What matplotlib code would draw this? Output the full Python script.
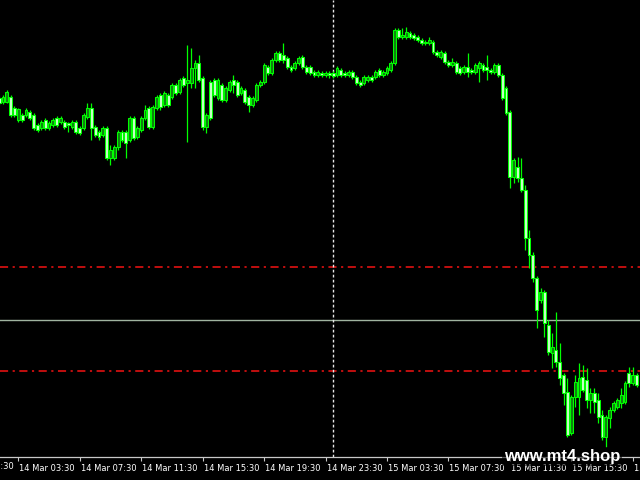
"""
      M15 candle chart, 14-15 Mar, green on black like the terminal.
"""
import numpy as np
import pandas as pd
import matplotlib
matplotlib.use("Agg")
import matplotlib.pyplot as plt
import matplotlib.transforms as mtrans

start = "2024-03-14 02:15"      # time of first bar

opens = [109.02,108.98,108.98,109.03,108.92,108.80,108.85,108.85,108.88,108.85,
         108.75,108.72,108.80,108.72,108.75,108.82,108.78,108.78,108.77,108.73,
         108.78,108.72,108.72,108.83,108.92,108.73,108.68,108.65,108.72,108.42,
         108.42,108.53,108.68,108.68,108.60,108.82,108.63,108.70,108.82,108.92,
         108.73,108.92,109.05,108.95,109.05,109.03,109.15,109.08,109.22,109.17,
         109.17,109.32,109.37,109.22,108.73,109.18,109.20,109.02,109.15,109.00,
         109.10,109.20,109.18,109.07,109.10,109.03,108.95,109.00,109.15,109.18,
         109.33,109.27,109.40,109.47,109.45,109.42,109.33,109.32,109.37,109.43,
         109.33,109.33,109.28,109.25,109.27,109.25,109.27,109.27,109.25,109.30,
         109.27,109.25,109.28,109.23,109.18,109.17,109.20,109.23,109.23,109.30,
         109.25,109.27,109.30,109.37,109.70,109.63,109.63,109.67,109.65,109.63,
         109.60,109.58,109.57,109.58,109.48,109.43,109.47,109.38,109.35,109.37,
         109.32,109.28,109.33,109.30,109.28,109.32,109.35,109.33,109.30,109.28,
         109.35,109.25,109.12,108.88,108.23,108.33,108.22,108.10,107.62,107.45,
         107.22,107.00,107.08,106.75,106.47,106.50,106.38,106.25,106.08,105.67,
         106.03,106.03,106.23,106.20,106.00,106.07,106.00,105.85,105.63,105.82,
         105.90,105.93,105.97,105.98,106.27,106.17,106.25]
highs = [109.04,109.05,109.10,109.05,108.94,108.92,108.87,108.92,108.90,108.87,
         108.77,108.80,108.82,108.79,108.82,108.84,108.84,108.80,108.78,108.80,
         108.80,108.74,108.87,108.97,108.97,108.75,108.70,108.74,108.74,108.55,
         108.55,108.70,108.70,108.70,108.84,108.84,108.74,108.84,108.95,108.94,
         108.95,109.05,109.07,109.09,109.07,109.17,109.17,109.22,109.24,109.55,
         109.52,109.40,109.45,109.24,108.87,109.20,109.22,109.22,109.17,109.14,
         109.20,109.25,109.20,109.14,109.12,109.05,109.04,109.17,109.20,109.37,
         109.35,109.42,109.49,109.49,109.57,109.44,109.35,109.39,109.44,109.45,
         109.35,109.35,109.30,109.30,109.29,109.29,109.29,109.29,109.34,109.32,
         109.29,109.30,109.30,109.25,109.20,109.25,109.25,109.25,109.30,109.32,
         109.30,109.34,109.39,109.72,109.72,109.72,109.73,109.69,109.67,109.65,
         109.62,109.60,109.63,109.60,109.50,109.50,109.49,109.40,109.42,109.39,
         109.34,109.35,109.47,109.32,109.37,109.39,109.37,109.45,109.32,109.37,
         109.37,109.27,109.14,108.90,108.42,108.43,108.42,108.15,107.70,107.48,
         107.24,107.12,107.10,106.80,106.67,106.88,106.57,106.27,106.22,106.05,
         106.25,106.37,106.35,106.32,106.12,106.12,106.07,105.90,105.85,105.93,
         105.99,106.02,106.12,106.19,106.33,106.33,106.27]
lows = [108.95,108.96,108.97,108.83,108.83,108.78,108.78,108.83,108.80,108.70,
        108.68,108.70,108.70,108.70,108.73,108.73,108.76,108.71,108.68,108.71,
        108.66,108.65,108.70,108.81,108.60,108.63,108.60,108.63,108.40,108.35,
        108.40,108.50,108.58,108.42,108.58,108.60,108.61,108.68,108.80,108.71,
        108.71,108.90,108.90,108.93,108.93,109.01,109.05,109.06,109.13,108.58,
        109.12,109.12,109.18,108.70,108.67,108.80,109.03,109.00,108.98,108.98,
        109.08,109.07,109.03,109.05,108.96,108.88,108.93,108.98,109.13,109.16,
        109.25,109.25,109.38,109.38,109.37,109.31,109.28,109.30,109.35,109.31,
        109.26,109.25,109.23,109.23,109.23,109.23,109.22,109.22,109.23,109.23,
        109.23,109.23,109.21,109.15,109.13,109.15,109.18,109.18,109.21,109.23,
        109.23,109.25,109.28,109.35,109.61,109.61,109.61,109.61,109.60,109.58,
        109.55,109.55,109.55,109.46,109.43,109.41,109.36,109.33,109.33,109.26,
        109.25,109.26,109.23,109.26,109.26,109.18,109.28,109.20,109.26,109.26,
        109.23,109.00,108.85,108.12,108.17,108.18,108.08,107.50,107.32,107.18,
        106.72,106.97,106.63,106.45,106.32,106.33,106.15,105.95,105.63,105.65,
        105.93,105.85,106.08,105.92,105.87,105.87,105.77,105.60,105.53,105.72,
        105.88,105.91,105.92,105.96,106.13,106.15,106.13]
closes = [108.97,109.03,109.08,108.85,108.85,108.91,108.80,108.90,108.82,108.72,
          108.70,108.78,108.72,108.77,108.80,108.75,108.82,108.73,108.75,108.78,
          108.68,108.67,108.85,108.92,108.72,108.65,108.63,108.72,108.42,108.50,
          108.53,108.68,108.60,108.57,108.82,108.62,108.72,108.82,108.90,108.73,
          108.93,109.03,108.93,109.07,108.95,109.15,109.07,109.20,109.15,109.20,
          109.32,109.37,109.20,108.73,108.85,108.82,109.05,109.20,109.00,109.12,
          109.18,109.15,109.05,109.12,108.98,108.95,109.02,109.15,109.18,109.35,
          109.27,109.40,109.47,109.40,109.40,109.33,109.30,109.37,109.42,109.33,
          109.28,109.27,109.25,109.28,109.25,109.27,109.25,109.24,109.32,109.25,
          109.25,109.28,109.23,109.17,109.15,109.23,109.23,109.20,109.28,109.25,
          109.28,109.32,109.37,109.70,109.63,109.65,109.68,109.63,109.62,109.60,
          109.57,109.57,109.60,109.48,109.45,109.48,109.38,109.35,109.38,109.28,
          109.27,109.33,109.28,109.28,109.35,109.37,109.30,109.30,109.28,109.35,
          109.25,109.02,108.87,108.23,108.40,108.22,108.10,107.62,107.45,107.22,
          106.90,107.08,106.77,106.48,106.53,106.38,106.22,106.07,105.65,106.03,
          106.18,106.22,106.10,106.00,106.07,105.98,105.83,105.63,105.83,105.90,
          105.97,106.00,106.05,106.17,106.17,106.25,106.15]

# horizontal levels and the day separator
red_levels = [107.33, 106.29]
grey_level = 106.80
separator = "2024-03-15 00:00"

tick_times = ["2024-03-13 23:30", "2024-03-14 03:30", "2024-03-14 07:30",
              "2024-03-14 11:30", "2024-03-14 15:30", "2024-03-14 19:30",
              "2024-03-14 23:30", "2024-03-15 03:30", "2024-03-15 07:30",
              "2024-03-15 11:30", "2024-03-15 15:30", "2024-03-15 19:30"]
tick_labels = ["13 Mar 23:30", "14 Mar 03:30", "14 Mar 07:30", "14 Mar 11:30",
               "14 Mar 15:30", "14 Mar 19:30", "14 Mar 23:30", "15 Mar 03:30",
               "15 Mar 07:30", "15 Mar 11:30", "15 Mar 15:30", "15 Mar 19:30"]


def bar_index(t):
    # position of a time in bar units (15 min bars)
    return (pd.Timestamp(t) - pd.Timestamp(start)) / pd.Timedelta("15min")


def main():
    o = np.array(opens)
    h = np.array(highs)
    l = np.array(lows)
    c = np.array(closes)
    x = np.arange(len(o))

    fig = plt.figure(figsize=(6.4, 4.8), dpi=100, facecolor="black")
    ax = fig.add_axes([0, 23/480, 1, 457/480])
    ax.set_facecolor("black")

    #    level lines
    for lv in red_levels:
        ax.axhline(lv, color="#d01010", lw=1.3, dashes=(4.5, 2.5, 1.2, 2.5), zorder=1)
    ax.axhline(grey_level, color="#a0b4a0", lw=1.0, zorder=1)
    ax.axvline(bar_index(separator), color="#e8e8e8", lw=1.0, dashes=(2, 1.6), zorder=1)

    #    candles: wicks then bodies
    up = c >= o
    ax.vlines(x, l, h, color="#00ff00", lw=0.9, zorder=2)
    body = np.maximum(np.abs(c - o), 0.008)
    faces = np.where(up, "#108010", "#c8ffc8")
    ax.bar(x, body, bottom=np.minimum(o, c), width=0.75, color=faces,
           edgecolor="#00ff00", linewidth=0.75, zorder=3)

    #    time axis, labels start right of the tick
    pos = [bar_index(t) for t in tick_times]
    ax.set_xticks(pos[1:])
    ax.set_xticklabels(tick_labels[1:])
    ax.set_xlim(0.234, 0.234 + 640/3.84)
    ax.set_ylim(110.0 - 4.57, 110.0)
    ax.tick_params(axis="x", direction="out", length=3, width=0.8, color="#c8c8c8",
                   labelcolor="white", labelsize=6.0, pad=2)
    shift = mtrans.ScaledTranslation(1/100, 0, fig.dpi_scale_trans)
    for lab in ax.get_xticklabels():
        lab.set_horizontalalignment("left")
        lab.set_transform(lab.get_transform() + shift)
    # first label is left of the window, only its end shows
    ax.text(pos[0] + 0.26, -0.0115, tick_labels[0], transform=ax.get_xaxis_transform(),
            color="white", fontsize=6.0, ha="left", va="top", clip_on=False)
    ax.set_yticks([])
    for side in ["top", "left", "right"]:
        ax.spines[side].set_visible(False)
    ax.spines["bottom"].set_color("#c8c8c8")
    ax.spines["bottom"].set_linewidth(0.9)

    #    watermark
    fig.text(562/640, 1 - 456/480, "www.mt4.shop", color="white", fontsize=12,
             fontweight="bold", family="Liberation Sans", ha="center", va="center",
             bbox=dict(facecolor="black", alpha=0.55, edgecolor="none", pad=1.5),
             zorder=10)

    fig.savefig("out.png", dpi=100, facecolor="black")


main()
